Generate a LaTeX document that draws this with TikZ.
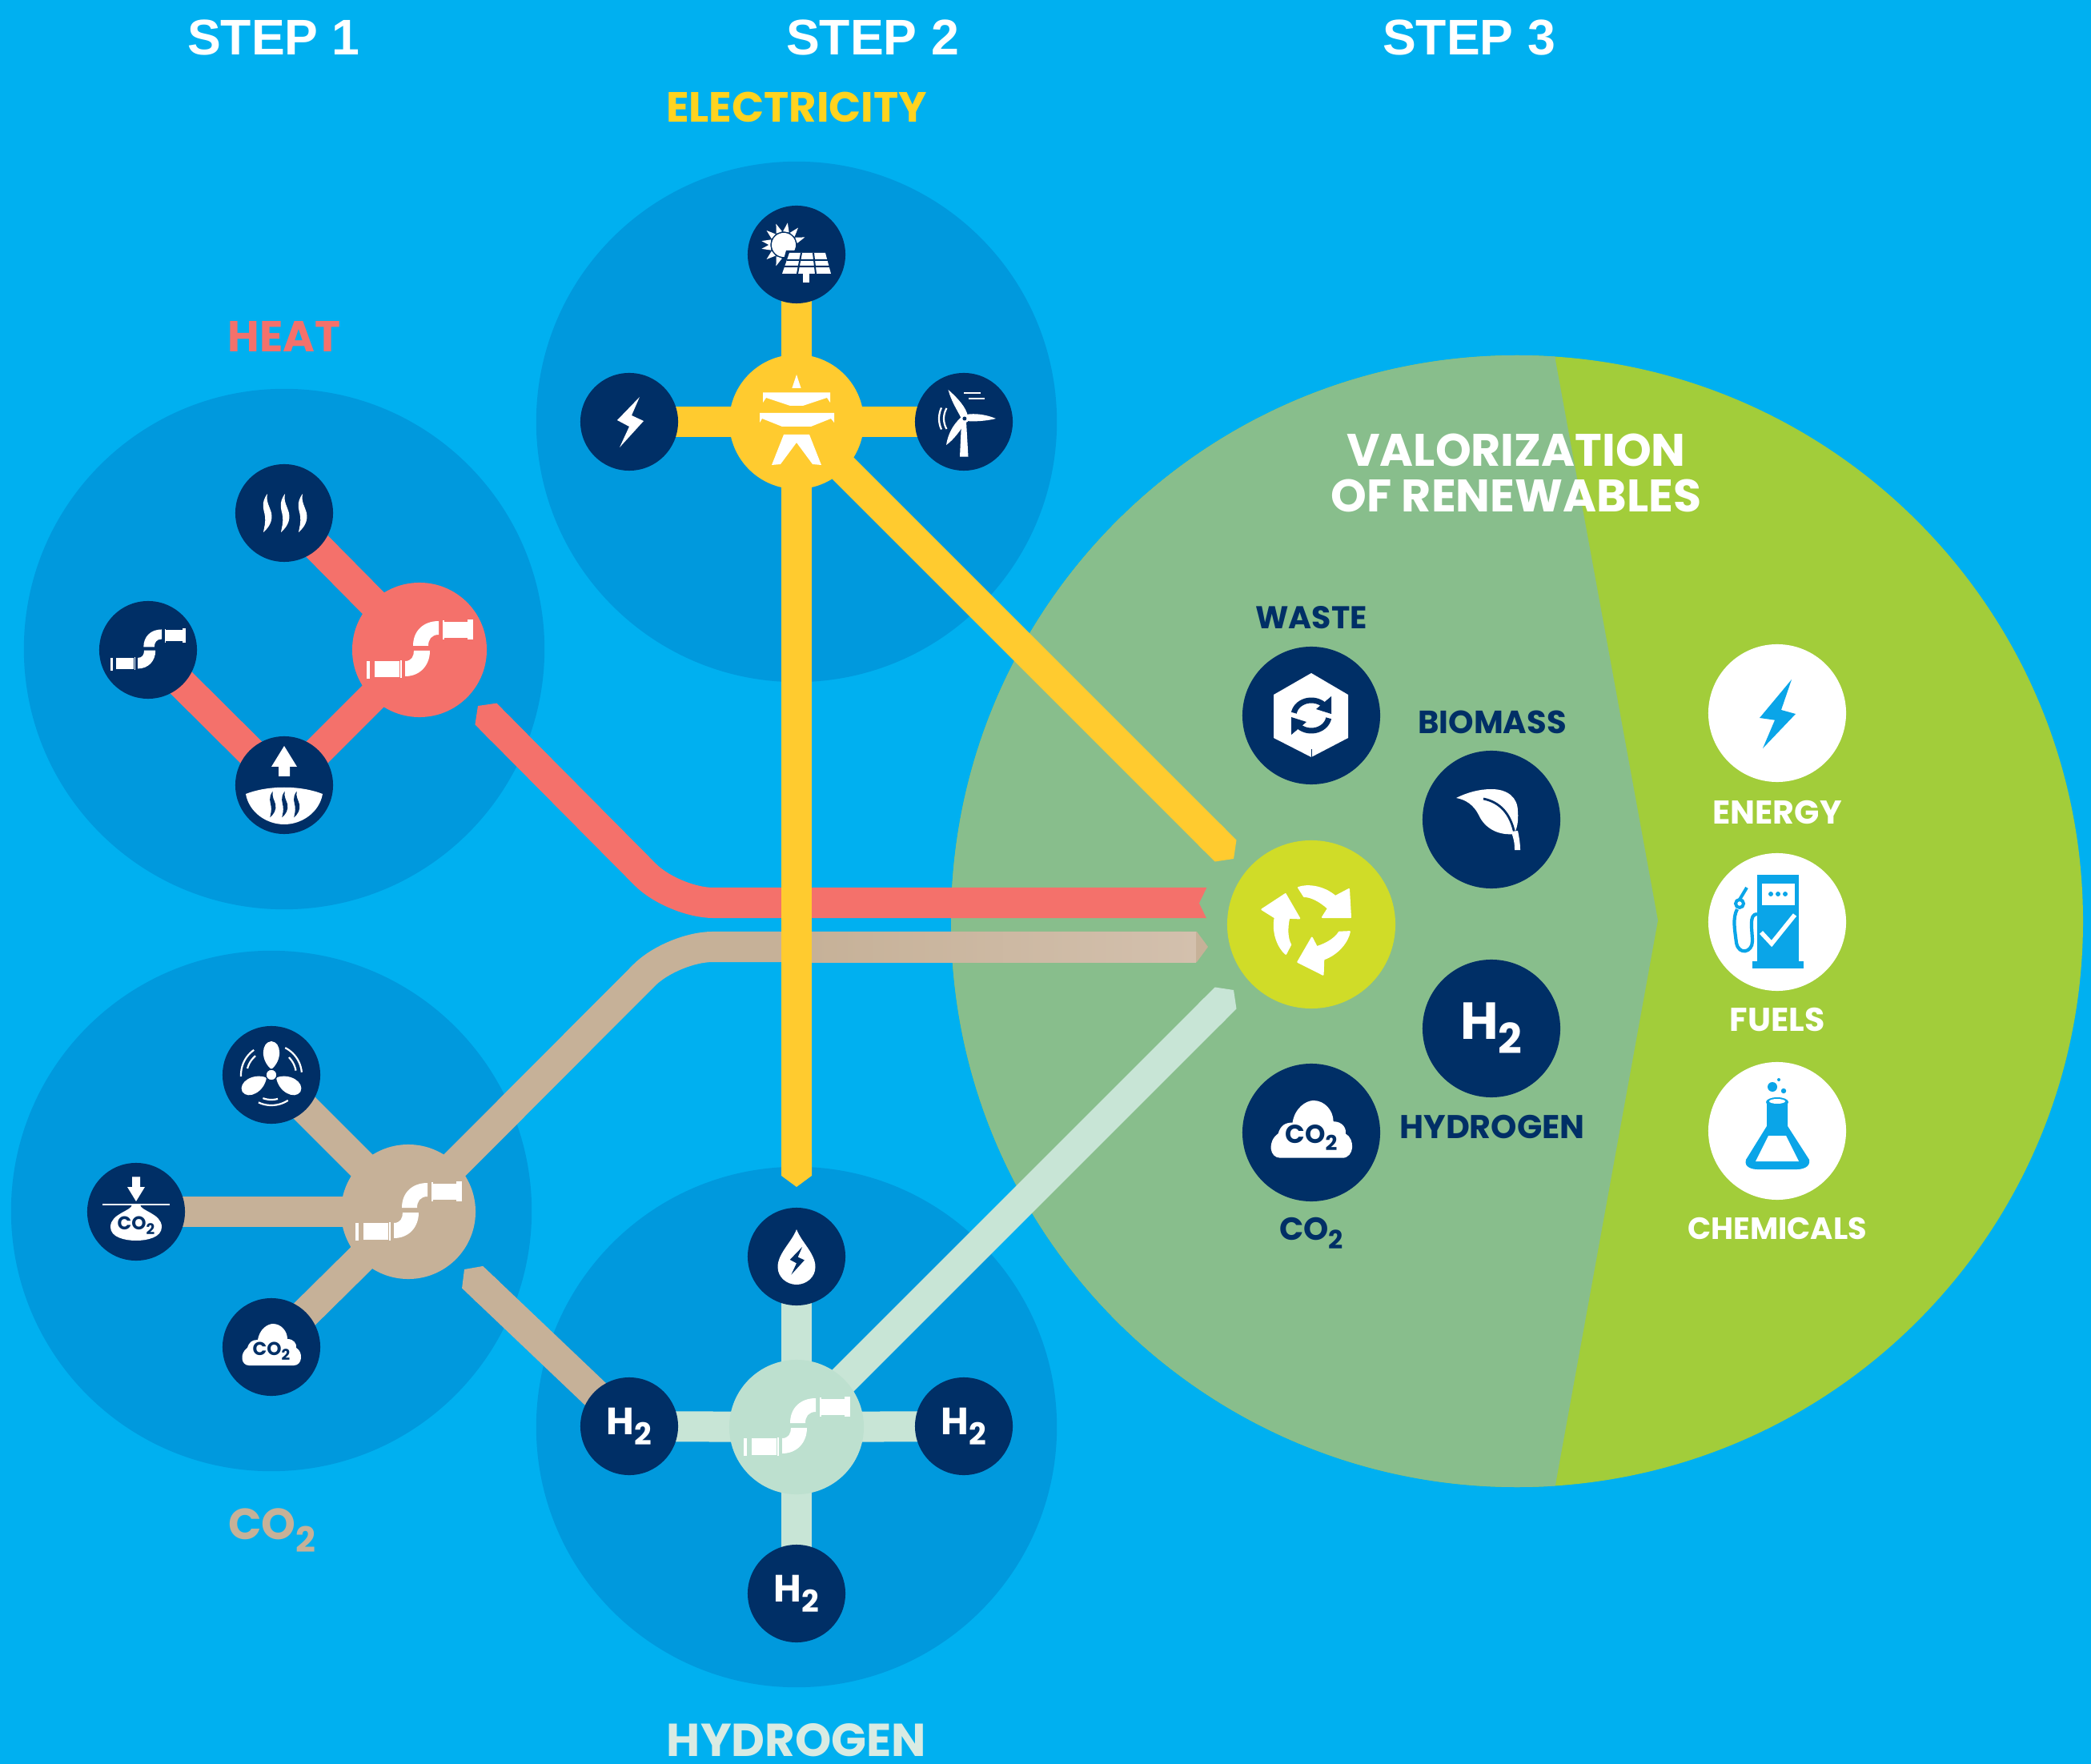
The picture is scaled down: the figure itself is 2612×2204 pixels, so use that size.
\documentclass[tikz,border=0pt]{standalone}
\usepackage{fontspec}
\setmainfont{Poppins}
\newfontfamily\stepfont{Liberation Sans}
\usetikzlibrary{arrows.meta}
\pgfdeclarelayer{back}
\pgfdeclarelayer{conn}
\pgfsetlayers{back,conn,main}
\definecolor{bgblue}{HTML}{00B0F0}
\definecolor{disc}{HTML}{0099DD}
\definecolor{navy}{HTML}{002F66}
\definecolor{salmon}{HTML}{F4716B}
\definecolor{sun}{HTML}{FFCB2F}
\definecolor{textsun}{HTML}{FFD31F}
\definecolor{sand}{HTML}{C6B198}
\definecolor{sandlight}{HTML}{D3C0AD}
\definecolor{mint}{HTML}{C8E5D6}
\definecolor{minthub}{HTML}{BDE0CF}
\definecolor{mintlabel}{HTML}{D9EBE3}
\definecolor{sage}{HTML}{88BE8C}
\definecolor{lime}{HTML}{A2CD3A}
\definecolor{recyc}{HTML}{D0DC28}
\definecolor{iconblue}{HTML}{0AA5E8}
\newcommand\fsize[1]{\fontsize{#1}{#1}\selectfont}
\newcommand\sbt{\raisebox{-.28em}{\scalebox{.8}{2}}}
\tikzset{
  x=0.01cm,y=-0.01cm,
  bigdisc/.style={circle,fill=disc,minimum size=6.5cm,inner sep=0pt},
  darknode/.style={circle,fill=navy,minimum size=1.22cm,inner sep=0pt,font=\bfseries\fsize{13.5pt},text=white},
  hubnode/.style={circle,fill=#1,minimum size=1.68cm,inner sep=0pt},
  bignavy/.style={circle,fill=navy,minimum size=1.72cm,inner sep=0pt,font=\bfseries\fsize{18.5pt},text=white},
  bigwhite/.style={circle,fill=white,minimum size=1.72cm,inner sep=0pt},
  band/.style={line width=3.8mm,color=#1},
  tipband/.style={line width=3.8mm,color=#1,-{Triangle Cap[length=+4pt]}},
  tiptwo/.style={line width=3.8mm,color=#1,{Triangle Cap[length=+4pt]}-},
  title/.style={font=\bfseries\fsize{#1},inner sep=0pt},
  navylabel/.style={title=#1,text=navy},
  whitelabel/.style={title=#1,text=white},
  steplabel/.style={font=\stepfont\bfseries\fsize{17.8pt},text=white,inner sep=0pt},
}
\newcommand\pipeicon{%
  \fill[white] (-66.5,14) rectangle (-62.4,36);
  \fill[white] (-56,14) rectangle (-25,34.5);
  \fill[white] (-24.5,13) rectangle (-22.5,35.5);
  \fill[white] (-18,14) -- (-18,33) .. controls (0,33) and (13,20) .. (13,1) -- (-7,1) .. controls (-7,8) and (-10,14) .. (-18,14) -- cycle;
  \fill[white] (24,-36) .. controls (5,-36) and (-8,-24) .. (-8,-5) -- (11,-5) .. controls (11,-13) and (15,-19) .. (24,-19) -- cycle;
  \fill[white] (29,-37) rectangle (31,-13);
  \fill[white] (31,-35) rectangle (60,-15);
  \fill[white] (60,-38) rectangle (66.5,-13);
}
\newcommand\toweric{%
  \fill[white] (0,-59) -- (5.6,-42) -- (-5.6,-42) -- cycle;
  \fill[white] (-42,-36.7) -- (42,-36.7) -- (42,-24) -- (38,-30) -- (8,-20) -- (-8,-20) -- (-38,-30) -- (-42,-24) -- cycle;
  \fill[white] (-46,-11) -- (47,-11) -- (47,1) -- (43,-4) -- (18,6) -- (-18,6) -- (-43,-4) -- (-46,1) -- cycle;
  \fill[white] (-16,16) -- (16,16) -- (31,54) -- (20,53) -- (0,26) -- (-20,53) -- (-31,54) -- cycle;
}
\newcommand\solaric{%
  \fill[white] (-16,-12) circle (15);
  \foreach \a in {-170,-140,-110,-80,-50,-20,170,140,110}{%
    \fill[white] ({-16+28*cos(\a)},{-12+28*sin(\a)}) -- ({-16+17*cos(\a+13)},{-12+17*sin(\a+13)}) -- ({-16+17*cos(\a-13)},{-12+17*sin(\a-13)}) -- cycle;}
  \fill[navy] (-13,-5) -- (39,-5) -- (46,27) -- (-22,27) -- cycle;
  \fill[white] (-9,-2) -- (36,-2) -- (43,24) -- (-18,24) -- cycle;
  \draw[navy,line width=.2mm] (-12,7) -- (40,7) (-15,15) -- (42,15) (6,-2) -- (1,24) (21,-2) -- (24,24);
  \fill[white] (8,24) rectangle (16,35);
}
\newcommand\bolticon[1]{%
  \fill[#1] (13,-31) -- (-15,-2) -- (0,6) -- (-12,32) -- (18,-1) -- (3,-8) -- cycle;
}
\newcommand\windicon{%
  \fill[white] (-3,0) -- (3,0) -- (5.5,43.7) -- (-5,43.7) -- cycle;
  \fill[white] (-19.5,-40) .. controls (-8,-30) and (3,-18) .. (5,-7) -- (-3,-4) .. controls (-8,-14) and (-16,-26) .. (-19.5,-40) -- cycle;
  \fill[white] (40,-4) .. controls (28,-1) and (14,0) .. (3,-1) -- (3,-9) .. controls (14,-11) and (28,-9) .. (40,-4) -- cycle;
  \fill[white] (-22,29) .. controls (-20,16) and (-14,4) .. (-4,-5) -- (2,1) .. controls (-4,10) and (-12,22) .. (-22,29) -- cycle;
  \fill[white] (.9,-4) circle (5.5);
  \fill[navy] (.9,-4) circle (2.5);
  \draw[white,line width=.22mm] (0,-36) -- (21,-36) (5.6,-29) -- (26,-29);
  \draw[white,line width=.22mm] plot[domain=155:205,samples=12] ({1+32*cos(\x)},{-4+32*sin(\x)});
  \draw[white,line width=.22mm] plot[domain=150:210,samples=12] ({1+26*cos(\x)},{-4+26*sin(\x)});
}
\newcommand\steamicon[1]{%
  \foreach \d in {-22,0,22}{%
    \fill[#1,shift={(\d,0)}] (1,-24) .. controls (-8,-12) and (-3,-4) .. (-2,4) .. controls (-1,12) and (-3,18) .. (-4,24) .. controls (3,18) and (8,10) .. (6,0) .. controls (4,-8) and (-1,-14) .. (1,-24) -- cycle;}
}
\newcommand\riseheaticon{%
  \fill[white] (0,-49) -- (16,-23) -- (7,-23) -- (7,-11) -- (-7,-11) -- (-7,-23) -- (-16,-23) -- cycle;
  \fill[white] (-48,11) .. controls (-20,0) and (20,0) .. (48,11) .. controls (44,34) and (22,49) .. (0,49) .. controls (-22,49) and (-44,34) .. (-48,11) -- cycle;
  \begin{scope}[shift={(0,24)},scale=.68]\steamicon{navy}\end{scope}
}
\newcommand\fanicon{%
  \foreach \r in {0,120,240}{%
    \begin{scope}[rotate=\r]
    \fill[white] (0,-7) .. controls (-14,-18) and (-13,-41) .. (0,-42) .. controls (13,-41) and (14,-18) .. (0,-7) -- cycle;
    \draw[white,line width=.22mm] plot[domain=-63:-5,samples=14] ({38*cos(\x)},{38*sin(\x)});
    \draw[white,line width=.22mm] plot[domain=-45:-10,samples=10] ({31*cos(\x)},{31*sin(\x)});
    \end{scope}}
  \fill[white,draw=navy,line width=.15mm] (0,0) circle (7);
}
\newcommand\captureicon[1]{%
  \fill[white] (-5,-43.6) -- (5,-43.6) -- (5,-31) -- (11,-31) -- (0,-13) -- (-11,-31) -- (-5,-31) -- cycle;
  \fill[white] (-42,-10) rectangle (42,-8);
  \fill[white] (-5,-9) .. controls (-5,-1) and (-32,2) .. (-32,19) .. controls (-32,32) and (-14,36) .. (0,36) .. controls (14,36) and (32,32) .. (32,19) .. controls (32,2) and (5,-1) .. (5,-9) -- cycle;
  \node[inner sep=0pt,text=navy,font=\bfseries\fsize{6.6pt}] (#1) at (0,17) {CO\sbt};
}
\newcommand\cloudicon[2]{%
  \fill[white] (-28,23) .. controls (-38,23) and (-40,8) .. (-30,1) .. controls (-28,-6) and (-24,-9) .. (-17,-9) .. controls (-15,-22) and (-5,-29) .. (2,-29) .. controls (12,-29) and (20,-20) .. (20,-10) .. controls (28,-10) and (32,-4) .. (31,1) .. controls (40,6) and (39,23) .. (28,23) -- cycle;
  \node[inner sep=0pt,text=navy,font=\bfseries\fsize{#2}] (#1) at (0,5) {CO\sbt};
}
\newcommand\dropicon{%
  \fill[white] (0,-34) .. controls (-6,-18) and (-23.5,-4) .. (-23.5,13) .. controls (-23.5,26) and (-12,35) .. (0,35) .. controls (12,35) and (23.5,26) .. (23.5,13) .. controls (23.5,-4) and (6,-18) .. (0,-34) -- cycle;
  \begin{scope}[shift={(0,5)},scale=.55]\bolticon{navy}\end{scope}
}
\newcommand\wasteicon{%
  \fill[white] (0,-53) -- (46,-26) -- (46,28) -- (0,52) -- (-47,28) -- (-47,-26) -- cycle;
  \draw[navy,line width=.7mm] plot[domain=190:320,samples=18] ({22*cos(\x)},{19*sin(\x)});
  \fill[navy] (25,-24) -- (25,-2) -- (6,-8) -- cycle;
  \draw[navy,line width=.7mm] plot[domain=10:140,samples=18] ({22*cos(\x)},{19*sin(\x)});
  \fill[navy] (-25,24) -- (-25,2) -- (-6,8) -- cycle;
  \draw[navy,line width=.1mm] (0,42) -- (0,52);
}
\newcommand\leaficon{%
  \fill[white] (-44,-27) .. controls (-30,-34) and (-15,-38) .. (0,-38) .. controls (20,-38) and (33,-28) .. (33,-10) .. controls (34,2) and (32,12) .. (28,18) .. controls (10,20) and (-8,12) .. (-16,-6) .. controls (-22,-18) and (-32,-25) .. (-44,-27) -- cycle;
  \draw[navy,line width=.28mm] (-10,-26) .. controls (10,-22) and (24,-8) .. (29,18);
  \fill[white] (24,15) -- (33,14) .. controls (35,24) and (36,30) .. (36,38) -- (29,38) .. controls (29,30) and (28,22) .. (24,15) -- cycle;
}
\newcommand\recycleicon{%
  \foreach \r in {0,120,240}{%
    \begin{scope}[rotate=\r]
    \filldraw[white,line width=.2mm,line join=round] (-16,-46) .. controls (-5,-50) and (15,-48) .. (30,-35) -- (47,-44) -- (49,-9) -- (14,-9) -- (21,-20) .. controls (10,-30) and (-1,-35) .. (-9,-35) -- cycle;
    \end{scope}}
}
\newcommand\pumpicon{%
  \fill[iconblue] (-25,-59) rectangle (27,49);
  \fill[iconblue] (-31,49) rectangle (33,58);
  \fill[white] (-19,-48) rectangle (22,-21);
  \fill[iconblue] (-8,-35) circle (3) (1,-35) circle (3) (10,-35) circle (3);
  \draw[white,line width=.55mm] (-20,13) -- (-7,27) -- (22,-9);
  \draw[iconblue,line width=.42mm] (-25,-10) .. controls (-36,-10) and (-31,10) .. (-31,24) .. controls (-31,38) and (-48,42) .. (-51,26) .. controls (-53,10) and (-56,-5) .. (-50,-16);
  \draw[iconblue,line width=.4mm] (-47,-23) circle (5);
  \draw[iconblue,line width=.4mm] (-47,-28) -- (-38,-43);
}
\newcommand\flaskicon{%
  \fill[iconblue] (-13,-36) -- (13,-36) -- (13,-6) -- (40,36) .. controls (42,46) and (30,48) .. (25,48) -- (-25,48) .. controls (-30,48) and (-42,46) .. (-39,36) -- (-13,-6) -- cycle;
  \fill[iconblue] (0,-36) ellipse (14 and 6);
  \fill[white] (0,-37) ellipse (10 and 3);
  \fill[white] (-11,6) -- (11,6) -- (27,38) -- (-27,38) -- cycle;
  \fill[iconblue] (-6,-55) circle (6) (8,-50) circle (3.2) (2,-64) circle (2);
}
\begin{document}
\begin{tikzpicture}
\useasboundingbox (0,0) rectangle (2612,2204);
\begin{pgfonlayer}{back}
  \fill[bgblue] (0,0) rectangle (2612,2204);
  \node[bigdisc] (heatdisc) at (355,811) {};
  \node[bigdisc] (elecdisc) at (995,527) {};
  \node[bigdisc] (codisc) at (339,1513) {};
  \node[bigdisc] (hydrodisc) at (995,1783) {};
  \fill[lime] (1895,1151) circle (707);
  \begin{scope}
    \clip (1895,1151) circle (707);
    \fill[sage] (1000,300) -- (1943,300) -- (1943,450) -- (2071,1150) -- (1943,1855) -- (1943,2000) -- (1000,2000) -- cycle;
  \end{scope}
\end{pgfonlayer}

% heat group
\node[hubnode=salmon] (heathub) at (524,812) {};
\node[darknode] (heattop) at (355,641) {};
\node[darknode] (heatleft) at (185,812) {};
\node[darknode] (heatbot) at (355,981) {};
% electricity group
\node[hubnode=sun] (elechub) at (995,527) {};
\node[darknode] (electop) at (995,318) {};
\node[darknode] (elecleft) at (786,527) {};
\node[darknode] (elecright) at (1204,527) {};
% co2 group
\node[hubnode=sand] (cohub) at (510,1514) {};
\node[darknode] (cotop) at (339,1343) {};
\node[darknode] (coleft) at (170,1514) {};
\node[darknode] (cobot) at (339,1683) {};
% hydrogen group
\node[hubnode=minthub] (hydrohub) at (995,1783) {};
\node[darknode] (hydrotop) at (995,1570) {};
\node[darknode] (hydroleft) at (786,1782) {H\sbt};
\node[darknode] (hydroright) at (1204,1782) {H\sbt};
\node[darknode] (hydrobot) at (995,1991) {H\sbt};
% centre
\node[circle,fill=recyc,minimum size=2.1cm,inner sep=0pt] (recy) at (1638,1155) {};
\node[bignavy] (waste) at (1638,894) {};
\node[bignavy] (biomass) at (1863,1024) {};
\node[bignavy] (hydrobig) at (1863,1285) {H\sbt};
\node[bignavy] (cobig) at (1638,1415) {};
\node[bigwhite] (energy) at (2220,891) {};
\node[bigwhite] (fuels) at (2220,1152) {};
\node[bigwhite] (chem) at (2220,1413) {};
% connector ends
\coordinate (heatstart) at (597,882);
\coordinate (heatbend) at (841,1128);
\coordinate (heatend) at (1507,1128);
\coordinate (cobend) at (840,1183);
\coordinate (coend) at (1509,1183);
\coordinate (cotip) at (580,1586);
\coordinate (yellowdown) at (995,1483);
\coordinate (yellowtip) at (1541,1073);
\coordinate (minttip) at (1541,1237);

\begin{pgfonlayer}{conn}
  \draw[band=salmon] (heattop.center) -- (heathub.center);
  \draw[band=salmon] (heatleft.center) -- (heatbot.center);
  \draw[band=salmon] (heatbot.center) -- (heathub.center);
  \draw[band=sand] (cotop.center) -- (cohub.center);
  \draw[band=sand] (coleft.center) -- (cohub.center);
  \draw[band=sand] (cobot.center) -- (cohub.center);
  \draw[band=mint] (hydrotop.center) -- (hydrohub.center);
  \draw[band=mint] (hydroleft.center) -- (hydrohub.center);
  \draw[band=mint] (hydroright.center) -- (hydrohub.center);
  \draw[band=mint] (hydrobot.center) -- (hydrohub.center);
  \draw[band=sun] (electop.center) -- (elechub.center);
  \draw[band=sun] (elecleft.center) -- (elechub.center);
  \draw[band=sun] (elecright.center) -- (elechub.center);
  % long lines
  \draw[tiptwo=salmon,rounded corners=.5cm] (heatstart) -- (heatbend) -- (heatend);
  \fill[sage] (1508,1108) -- (1508,1149) -- (1498,1128.5) -- cycle;
  \draw[tipband=sand,rounded corners=.5cm] (cohub.center) -- (cobend) -- (coend);
  \fill[left color=sand,right color=sandlight] (1010,1164) rectangle (1494,1202);
  \draw[tiptwo=sand] (cotip) -- (hydroleft.center);
  \draw[tipband=mint] (hydrohub.center) -- (minttip);
  \draw[tipband=sun] (elechub.center) -- (yellowdown);
  \draw[tipband=sun] (elechub.center) -- (yellowtip);
\end{pgfonlayer}

% icons
\begin{scope}[shift={(heathub.center)}]\pipeicon\end{scope}
\begin{scope}[shift={(heatleft.center)},scale=.71]\pipeicon\end{scope}
\begin{scope}[shift={(heattop.center)}]\steamicon{white}\end{scope}
\begin{scope}[shift={(heatbot.center)}]\riseheaticon\end{scope}
\begin{scope}[shift={(elechub.center)}]\toweric\end{scope}
\begin{scope}[shift={(electop.center)}]\solaric\end{scope}
\begin{scope}[shift={(elecleft.center)}]\bolticon{white}\end{scope}
\begin{scope}[shift={(elecright.center)}]\windicon\end{scope}
\begin{scope}[shift={(cohub.center)}]\pipeicon\end{scope}
\begin{scope}[shift={(cotop.center)}]\fanicon\end{scope}
\begin{scope}[shift={(coleft.center)}]\captureicon{captxt}\end{scope}
\begin{scope}[shift={(cobot.center)}]\cloudicon{cloudtxt}{6.6pt}\end{scope}
\begin{scope}[shift={(hydrohub.center)}]\pipeicon\end{scope}
\begin{scope}[shift={(hydrotop.center)}]\dropicon\end{scope}
\begin{scope}[shift={(recy.center)}]\recycleicon\end{scope}
\begin{scope}[shift={(waste.center)}]\wasteicon\end{scope}
\begin{scope}[shift={(biomass.center)}]\leaficon\end{scope}
\begin{scope}[shift={(cobig.center)},scale=1.38]\cloudicon{cloudbig}{9.2pt}\end{scope}
\begin{scope}[shift={(energy.center)}]
  \fill[iconblue] (18,-42) -- (-22,6) -- (-3,8.7) -- (-18,44) -- (23,1) -- (5,-4) -- cycle;
\end{scope}
\begin{scope}[shift={(fuels.center)}]\pumpicon\end{scope}
\begin{scope}[shift={(chem.center)}]\flaskicon\end{scope}

% labels
\node[steplabel] (step1) at (342,47) {STEP 1};
\node[steplabel] (step2) at (1090,47) {STEP 2};
\node[steplabel] (step3) at (1835,47) {STEP 3};
\node[title=15pt,text=textsun] (lelec) at (995,134) {ELECTRICITY};
\node[title=15.4pt,text=salmon] (lheat) at (355,420) {HEAT};
\node[title=15.5pt,text=sand] (lco) at (340,1912) {CO\sbt};
\node[title=16.4pt,text=mintlabel] (lhyd) at (995,2174) {HYDROGEN};
\node[title=16.2pt,text=white,align=center] (lval) at (1894,591) {VALORIZATION\\OF RENEWABLES};
\node[navylabel=11.2pt] (lwaste) at (1638,772) {WASTE};
\node[navylabel=11.4pt] (lbio) at (1864,902) {BIOMASS};
\node[navylabel=11.7pt] (lhyb) at (1864,1408) {HYDROGEN};
\node[navylabel=11.3pt] (lcob) at (1638,1541) {CO\sbt};
\node[whitelabel=11.7pt] (lene) at (2220,1015) {ENERGY};
\node[whitelabel=11.7pt] (lfue) at (2220,1274) {FUELS};
\node[whitelabel=10.9pt] (lche) at (2220,1535) {CHEMICALS};
\end{tikzpicture}
\end{document}
